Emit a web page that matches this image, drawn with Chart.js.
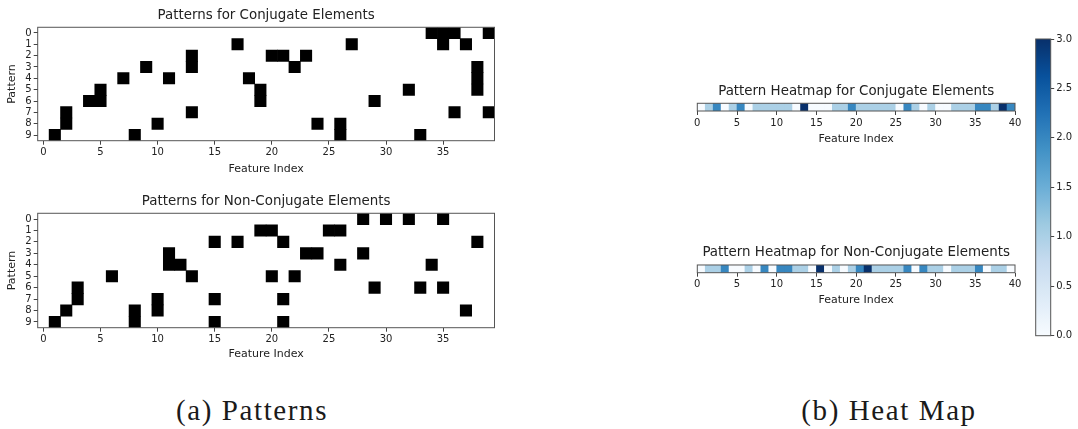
<!DOCTYPE html>
<html>
<head>
<meta charset="utf-8">
<script src="https://cdn.jsdelivr.net/npm/chart.js@4.4.0/dist/chart.umd.min.js"></script>
<style>
  html, body { margin: 0; padding: 0; background: #fff; width: 1078px; height: 429px; overflow: hidden; }
  canvas { position: absolute; }
  .cap { position: absolute; font-family: 'Liberation Serif', serif; font-size: 29px; line-height: 29px;
         letter-spacing: 1.6px; color: #1a1a1a; white-space: nowrap; transform: translateX(-50%); }
</style>
</head>
<body>
<canvas id="patConj" width="532" height="185" style="left:0;top:0"></canvas>
<canvas id="patNonConj" width="532" height="185" style="left:0;top:185px"></canvas>
<canvas id="heatConj" width="378" height="80" style="left:667px;top:70px"></canvas>
<canvas id="heatNonConj" width="378" height="76" style="left:667px;top:235px"></canvas>
<canvas id="colorbar" width="78" height="330" style="left:1000px;top:25px"></canvas>
<div class="cap" style="left:252px;top:396px">(a) Patterns</div>
<div class="cap" style="left:889px;top:396px">(b) Heat Map</div>

<script>
// ---- data -------------------------------------------------------------
const featureCount = 40;
const patternRows = ['0', '1', '2', '3', '4', '5', '6', '7', '8', '9'];

// active feature indices of each pattern (one list per pattern row)
const conjPatterns = [
  [34, 35, 36, 39],
  [17, 27, 35, 37],
  [13, 20, 21, 23],
  [9, 13, 22, 38],
  [7, 11, 18, 38],
  [5, 19, 32, 38],
  [4, 5, 19, 29],
  [2, 13, 36, 39],
  [2, 10, 24, 26],
  [1, 8, 26, 33]
];
const nonConjPatterns = [
  [28, 30, 32, 35],
  [19, 20, 25, 26],
  [15, 17, 21, 38],
  [11, 23, 24, 28],
  [11, 12, 26, 34],
  [6, 13, 20, 22],
  [3, 29, 33, 35],
  [3, 10, 15, 21],
  [2, 8, 10, 37],
  [1, 8, 15, 21]
];

// how many patterns use each feature
const conjCounts = [0, 1, 2, 0, 1, 2, 0, 1, 1, 1, 1, 1, 0, 3, 0, 0, 0, 1, 1, 2,
                    1, 1, 1, 1, 1, 0, 2, 1, 0, 1, 0, 0, 1, 1, 1, 2, 2, 1, 3, 2];
const nonConjCounts = [0, 1, 1, 2, 0, 0, 1, 0, 2, 0, 2, 2, 1, 1, 0, 3, 0, 1, 0, 1,
                       2, 3, 1, 1, 1, 1, 2, 0, 2, 1, 1, 0, 1, 1, 1, 2, 0, 1, 1, 0];

const patternXTicks = [0, 5, 10, 15, 20, 25, 30, 35];
const colorbarTicks = [0, 0.5, 1, 1.5, 2, 2.5, 3];
const cbMin = 0, cbMax = 3;

// ---- styling ----------------------------------------------------------
const FAMILY = "'DejaVu Sans', sans-serif";
const TEXT = '#222';
const TICK = '#444';
const tickFont = { family: FAMILY, size: 10 };
const labelFont = { family: FAMILY, size: 11 };
const titleFont = { family: FAMILY, size: 13.4, weight: 'normal' };

// matplotlib "Blues" colour map
const BLUES = [
  [0.0, [247, 251, 255]], [0.125, [222, 235, 247]], [0.25, [198, 219, 239]],
  [0.375, [158, 202, 225]], [0.5, [107, 174, 214]], [0.625, [66, 146, 198]],
  [0.75, [33, 113, 181]], [0.875, [8, 81, 156]], [1.0, [8, 48, 107]]
];
function blues(t) {
  t = Math.max(0, Math.min(1, t));
  for (let i = 1; i < BLUES.length; i++) {
    const [t1, c1] = BLUES[i];
    const [t0, c0] = BLUES[i - 1];
    if (t <= t1) {
      const f = (t - t0) / (t1 - t0);
      const c = c0.map((v, k) => Math.round(v + (c1[k] - v) * f));
      return `rgb(${c[0]},${c[1]},${c[2]})`;
    }
  }
  return 'rgb(8,48,107)';
}

// outline around the plot area (all four spines)
const frame = {
  id: 'frame',
  afterDatasetsDraw(chart) {
    const { ctx, chartArea: a } = chart;
    ctx.save();
    ctx.strokeStyle = '#555';
    ctx.lineWidth = 1;
    ctx.strokeRect(a.left, a.top, a.right - a.left, a.bottom - a.top);
    ctx.restore();
  }
};

// ---- binary pattern grids ---------------------------------------------
function patternChart(id, patterns, titleText, g) {
  const cells = [];
  patterns.forEach((cols, r) => cols.forEach(c => {
    cells.push({ y: patternRows[r], x: [c - 0.5, c + 0.5] });
  }));
  new Chart(document.getElementById(id), {
    type: 'bar',
    data: {
      labels: patternRows,
      datasets: [{ data: cells, backgroundColor: '#000', borderWidth: 0,
                   barPercentage: 1, categoryPercentage: 1 }]
    },
    options: {
      indexAxis: 'y', responsive: false, animation: false,
      layout: { padding: { left: 0, right: g.right, top: 0, bottom: 0 } },
      plugins: {
        legend: { display: false }, tooltip: { enabled: false },
        title: { display: true, fullSize: false, text: titleText, font: titleFont, color: TEXT,
                 padding: { top: g.tTop, bottom: g.tBottom } }
      },
      scales: {
        x: {
          type: 'linear', min: -0.5, max: featureCount - 0.5,
          afterBuildTicks: s => { s.ticks = patternXTicks.map(v => ({ value: v })); },
          afterFit: s => { s.height = g.xh; },
          ticks: { font: tickFont, color: TEXT, padding: 2, maxRotation: 0, callback: v => String(v) },
          grid: { drawOnChartArea: false, drawTicks: true, tickLength: 4, color: TICK },
          border: { display: false },
          title: { display: true, text: 'Feature Index', font: labelFont, color: TEXT,
                   padding: { top: 0, bottom: g.xlPad } }
        },
        y: {
          type: 'category', offset: true,
          afterFit: s => { s.width = g.yw; },
          ticks: { font: tickFont, color: TEXT, padding: 2, autoSkip: false },
          grid: { offset: false, drawOnChartArea: false, drawTicks: true, tickLength: 4, color: TICK },
          border: { display: false },
          title: { display: true, text: 'Pattern', font: labelFont, color: TEXT,
                   padding: { top: 5.5, bottom: 0 } }
        }
      }
    },
    plugins: [frame]
  });
}

patternChart('patConj', conjPatterns, 'Patterns for Conjugate Elements',
  { right: 37.5, tTop: 7.0, tBottom: 4.2, xh: 44.3, yw: 37.7, xlPad: 8.9 });
patternChart('patNonConj', nonConjPatterns, 'Patterns for Non-Conjugate Elements',
  { right: 37.5, tTop: 8.2, tBottom: 4.0, xh: 42.3, yw: 37.7, xlPad: 9.2 });

// ---- feature-usage heat maps ------------------------------------------
function heatChart(id, counts, titleText, g) {
  const cells = counts.map((v, i) => ({ y: 'usage', x: [i, i + 1] }));
  const colours = counts.map(v => blues((v - cbMin) / (cbMax - cbMin)));
  new Chart(document.getElementById(id), {
    type: 'bar',
    data: {
      labels: ['usage'],
      datasets: [{ data: cells, backgroundColor: colours, borderWidth: 0,
                   barPercentage: 1, categoryPercentage: 1 }]
    },
    options: {
      indexAxis: 'y', responsive: false, animation: false,
      layout: { padding: { left: 30.3, right: 30, top: 0, bottom: 0 } },
      plugins: {
        legend: { display: false }, tooltip: { enabled: false },
        title: { display: true, text: titleText, font: titleFont, color: TEXT,
                 padding: { top: g.tTop, bottom: g.tBottom } }
      },
      scales: {
        x: {
          type: 'linear', min: 0, max: featureCount, offset: false,
          afterFit: s => { s.height = g.xh; },
          ticks: { stepSize: 5, font: tickFont, color: TEXT, padding: 2, maxRotation: 0 },
          grid: { offset: false, drawOnChartArea: false, drawTicks: true, tickLength: 4, color: TICK },
          border: { display: false },
          title: { display: true, text: 'Feature Index', font: labelFont, color: TEXT,
                   padding: { top: 0, bottom: 4.4 } }
        },
        y: { type: 'category', offset: true, display: false }
      }
    },
    plugins: [frame]
  });
}

heatChart('heatConj', conjCounts, 'Pattern Heatmap for Conjugate Elements',
  { tTop: 13.0, tBottom: 4.2, xh: 39 });
heatChart('heatNonConj', nonConjCounts, 'Pattern Heatmap for Non-Conjugate Elements',
  { tTop: 9.0, tBottom: 4.9, xh: 38.3 });

// ---- colour bar ---------------------------------------------------------
new Chart(document.getElementById('colorbar'), {
  type: 'bar',
  data: {
    labels: ['scale'],
    datasets: [{
      data: [[cbMin, cbMax]],
      borderWidth: 0, barPercentage: 1, categoryPercentage: 1,
      backgroundColor: c => {
        const chart = c.chart;
        if (!chart.chartArea) return 'rgb(107,174,214)';
        const y = chart.scales.y;
        const grad = chart.ctx.createLinearGradient(0, y.getPixelForValue(cbMin), 0, y.getPixelForValue(cbMax));
        for (let i = 0; i <= 24; i++) grad.addColorStop(i / 24, blues(i / 24));
        return grad;
      }
    }]
  },
  options: {
    responsive: false, animation: false,
    layout: { padding: { left: 35.7, right: 0, top: 14, bottom: 19.3 } },
    plugins: { legend: { display: false }, tooltip: { enabled: false } },
    scales: {
      x: { display: false, offset: true },
      y: {
        position: 'right', min: cbMin, max: cbMax,
        afterBuildTicks: s => { s.ticks = colorbarTicks.map(v => ({ value: v })); },
        afterFit: s => { s.width = 27.3; },
        ticks: { font: tickFont, color: TEXT, padding: 2, callback: v => Number(v).toFixed(1) },
        grid: { drawOnChartArea: false, drawTicks: true, tickLength: 3.5, color: TICK },
        border: { display: false }
      }
    }
  },
  plugins: [frame]
});
</script>
</body>
</html>
